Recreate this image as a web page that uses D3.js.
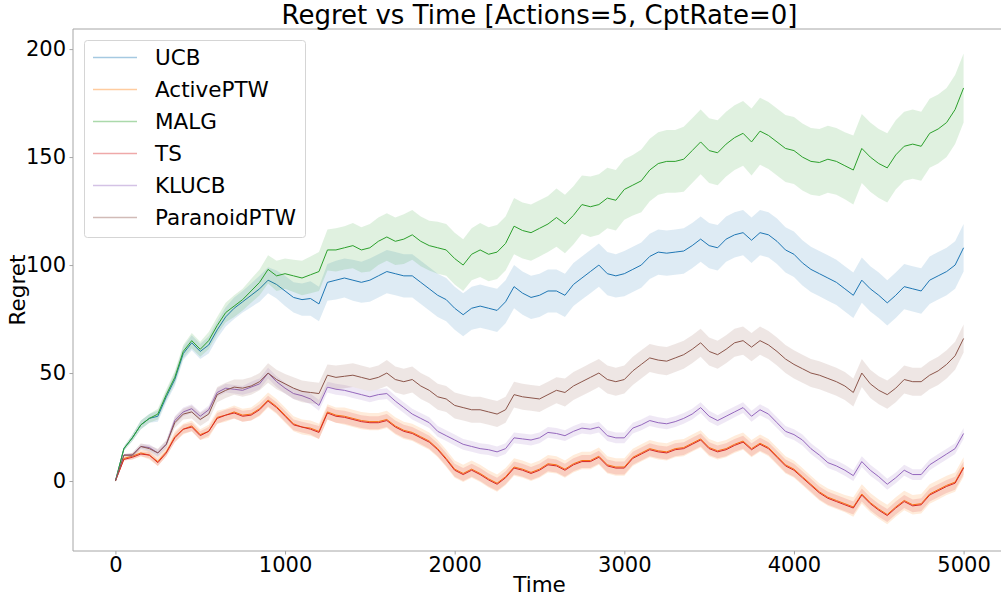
<!DOCTYPE html>
<html>
<head>
<meta charset="utf-8">
<script src="https://d3js.org/d3.v7.min.js"></script>
<style>
  body { margin: 0; background: #fff; }
  svg { display: block; font-family: "DejaVu Sans", sans-serif; }
</style>
</head>
<body>
<div id="chart"></div>
<script>
'use strict';

// time steps (one sample every 50 steps)
var time = d3.range(0, 5001, 50);

// mean regret
var ucb = [
  0, 15, 20, 26, 29, 30, 39, 47, 59, 64,
  60, 63, 70, 76, 80, 83, 86, 89, 93, 91,
  88, 85, 84, 84.5, 82, 92, 93, 94, 93, 92,
  93, 95, 97, 96, 95, 95, 92, 89, 86, 84,
  80, 77, 80, 81, 80, 79, 83, 90, 87, 85,
  86, 88, 88, 86, 91, 94, 97, 100, 96, 95,
  96, 98, 100, 104, 106, 105.5, 106, 106.5, 109, 112,
  109, 108, 112, 114, 115, 111.5, 115, 114, 111, 107,
  105, 101, 98, 96, 94, 92, 89, 86, 93, 89,
  86, 82.5, 86, 90, 89, 88, 93, 95, 97, 100,
  108];
var activePTW = [
  0, 10.5, 11.5, 13, 12, 9, 13.5, 20.5, 24, 25.5,
  21.5, 23, 29.5, 30.5, 32, 30.5, 31, 33.5, 37.5, 34.5,
  30.5, 26.5, 25, 24.5, 23, 32, 30.5, 30, 29, 28,
  27.5, 27.5, 28.5, 25.5, 23.5, 22.5, 20.5, 18.5, 15, 10.5,
  5.5, 3.5, 5.5, 3.5, 1, -1, 2, 6.5, 5.5, 4,
  5.5, 8, 7.5, 5.5, 8, 9.5, 9.5, 11.5, 7.5, 6.5,
  6.5, 11, 13, 15, 14, 13.5, 15, 15.5, 17.5, 19.5,
  15.5, 14, 15, 17, 18.5, 15, 17.5, 15.5, 11.5, 7.5,
  5.5, 2, -1.5, -5, -7.5, -9, -10.5, -12, -6, -10,
  -13, -15.5, -12, -9, -11, -10.5, -6, -4, -2, -0.5,
  6.5];
var malg = [
  0, 15, 20, 26, 29, 31, 40, 48, 60, 65,
  61, 65, 72, 78, 81, 84, 88, 92, 98, 95,
  96, 95, 94, 95.5, 97, 107, 107, 108, 109, 107,
  108, 111, 113, 111, 112, 114, 111, 109, 108, 107,
  103, 100, 105, 107, 105, 106, 110, 118, 116, 115,
  117, 119, 122, 119, 123, 128, 127, 128, 131, 130,
  135, 137, 139, 144, 147, 148, 148, 149, 153, 157,
  153, 152, 156, 159, 161, 157, 162, 160, 157, 154,
  153, 150, 148, 147.5, 149, 148, 146, 144, 154, 150,
  147, 145, 151, 155, 156, 155, 161, 163, 166, 172,
  182];
var ts = [
  0, 10, 11, 12.5, 12, 8.5, 13, 20, 24, 25,
  21, 23, 29, 30.5, 31.5, 30, 30.5, 33, 37, 34,
  30, 26, 25, 24, 22.5, 31.5, 30, 29.5, 28.5, 27.5,
  27, 27, 28, 25, 23, 22, 20, 18, 14.5, 10,
  5, 3, 5, 3, 0.5, -1.5, 1.5, 6, 5, 3.5,
  5, 7.5, 7, 5, 7.5, 9, 9, 11, 7, 6,
  6, 10.5, 12.5, 14.5, 13.5, 13, 14.5, 15, 17, 19,
  15, 13.5, 14.5, 16.5, 18, 14.5, 17, 15, 11, 7,
  5, 1.5, -2, -5.5, -8, -9.5, -11, -12.5, -6.5, -10.5,
  -13.5, -16, -12.5, -9.5, -11.5, -11, -6.5, -4.5, -2.5, -1,
  6];
var klucb = [
  0, 12, 12, 16, 15.5, 13, 17, 28, 32, 33.5,
  30, 33, 41, 43, 42.5, 42, 43.5, 45, 50, 46,
  43, 40.5, 39.5, 38, 35, 43.5, 42.5, 42, 41, 40,
  39, 40, 40.5, 37, 34, 31, 29, 27, 23, 21,
  19, 17, 16, 15, 14.5, 13.5, 15, 20, 19.5, 19,
  20, 22.5, 22, 21, 23, 24.5, 24, 25, 21, 20,
  20, 24.5, 26, 28, 27, 26.5, 27.5, 29, 31, 34,
  30, 28, 30, 32, 34, 30, 33, 31, 27, 23,
  21.5, 19, 15, 12, 8.5, 7, 5, 2.5, 9, 5,
  2, -1.5, 1.5, 5, 3, 3, 7.5, 10, 12.5, 15,
  22];
var paranoidPTW = [
  0, 12, 12, 16, 15, 13, 17, 27, 31, 32,
  28.5, 31, 40, 42, 43.5, 43, 44, 46, 50, 47,
  45, 43, 41.5, 41, 40.5, 49, 48, 48.5, 49, 48,
  47, 48, 50, 47, 46, 47, 44, 42, 39, 38,
  35, 34, 33, 33, 32, 31, 33, 40, 39, 38.5,
  38, 40, 42, 41, 44, 46, 48, 50, 47, 46,
  47, 51, 54, 57, 56, 55.5, 57, 58.5, 61, 64,
  60, 58.5, 61, 64, 65, 62, 65, 63, 60, 56.5,
  54, 52, 50, 49, 47.5, 46, 44, 41, 50, 45,
  42, 40, 43, 47, 46, 46, 49, 51, 54, 58,
  66];

// half width of the shaded band around each mean
var ucbSpread = [
  0, 1, 1.5, 2, 2, 2.5, 2.5, 3, 3, 3.5,
  3.5, 4, 4, 4.5, 5, 5, 5.5, 6, 6, 6.5,
  7, 7, 7.5, 8, 8, 8.5, 9, 9, 9.5, 9.5,
  10, 10, 10, 10, 10, 10, 10, 10, 10, 10,
  10, 10, 10, 10, 10, 10, 10, 10, 10, 10,
  10, 10, 10, 10, 10, 10, 10, 10, 10, 10,
  10.5, 10.5, 10.5, 10.5, 10.5, 10.5, 10.5, 10.5, 10.5, 10.5,
  10.5, 10.5, 10.5, 10.5, 10.5, 10.5, 10.5, 10.5, 10.5, 10.5,
  10.5, 10.5, 10.5, 10.5, 10.5, 10.5, 10.5, 10.5, 10.5, 10.5,
  10.5, 10.5, 10.5, 10.5, 10.5, 10.5, 11, 11, 11, 11,
  11];
var activeSpread = [
  0, 1, 1.5, 1.5, 2, 2, 2, 2.5, 2.5, 2.5,
  2.5, 3, 3, 3, 3, 3, 3, 3.5, 3.5, 3.5,
  3.5, 3.5, 3.5, 3.5, 3.5, 3.5, 3.5, 4, 4, 4,
  4, 4, 4, 4, 4, 4, 4, 4, 4, 4,
  4, 4, 4, 4, 4, 4, 4, 4, 4, 4,
  4, 4, 4, 4, 4, 4, 4, 4, 4, 4,
  4, 4, 4, 4, 4, 4, 4, 4, 4, 4,
  4, 4, 4, 4, 4, 4, 4, 4, 4, 4,
  4, 4, 4, 4, 4, 4, 4, 4.5, 4.5, 4.5,
  4.5, 4.5, 4.5, 4.5, 4.5, 4.5, 4.5, 4.5, 4.5, 4.5,
  4.5];
var malgSpread = [
  0, 1, 1.5, 2, 2, 2.5, 2.5, 3, 3, 3.5,
  3.5, 4, 4, 4.5, 5, 5, 5.5, 6, 6.5, 7,
  7, 7.5, 8, 8.5, 9, 9.5, 10, 10, 10.5, 10.5,
  11, 11, 11, 11, 11.5, 11.5, 11.5, 11.5, 12, 12,
  12, 12, 12, 12.5, 12.5, 12.5, 12.5, 13, 13, 13,
  13, 13, 13.5, 13.5, 13.5, 13.5, 14, 14, 14, 14,
  14, 14, 14.5, 14.5, 14.5, 14.5, 14.5, 15, 15, 15,
  15, 15, 15, 15, 15, 15.5, 15.5, 15.5, 15.5, 15.5,
  15.5, 15.5, 15.5, 15.5, 15.5, 15.5, 15.5, 16, 16, 16,
  16, 16, 16, 16, 16, 16, 16, 16, 16, 16,
  16];
var tsSpread = [
  0, 0.5, 1, 1, 1.5, 1.5, 1.5, 2, 2, 2,
  2, 2, 2.5, 2.5, 2.5, 2.5, 2.5, 2.5, 2.5, 2.5,
  2.5, 2.5, 2.5, 2.5, 3, 3, 3, 3, 3, 3,
  3, 3, 3, 3, 3, 3, 3, 3, 3, 3,
  3, 3, 3, 3, 3, 3, 3, 3, 3, 3,
  3, 3, 3, 3, 3, 3, 3, 3, 3, 3,
  3, 3, 3, 3, 3, 3, 3, 3, 3, 3,
  3, 3, 3, 3, 3, 3, 3, 3, 3, 3,
  3, 3, 3, 3, 3, 3, 3, 3, 3, 3,
  3, 3, 3, 3, 3, 3, 3, 3, 3, 3,
  3];
var klucbSpread = [
  0, 0.5, 1, 1, 1.5, 1.5, 1.5, 2, 2, 2,
  2, 2, 2, 2, 2, 2, 2.5, 2.5, 2.5, 2.5,
  2.5, 2.5, 2.5, 2.5, 2.5, 2.5, 2.5, 2.5, 2.5, 2.5,
  2.5, 2.5, 2.5, 2.5, 2.5, 2.5, 2.5, 2.5, 2.5, 2.5,
  2.5, 2.5, 2.5, 2.5, 2.5, 2.5, 2.5, 2.5, 2.5, 2.5,
  2.5, 2.5, 2.5, 2.5, 2.5, 2.5, 2.5, 2.5, 2.5, 2.5,
  2.5, 2.5, 2.5, 2.5, 2.5, 2.5, 2.5, 2.5, 2.5, 2.5,
  2.5, 2.5, 2.5, 2.5, 2.5, 2.5, 2.5, 2.5, 2.5, 2.5,
  2.5, 2.5, 2.5, 2.5, 2.5, 2.5, 2.5, 2.5, 2.5, 2.5,
  2.5, 2.5, 2.5, 2.5, 2.5, 2.5, 2.5, 2.5, 2.5, 2.5,
  2.5];
var paranoidSpread = [
  0, 0.5, 1, 1.5, 1.5, 2, 2, 2.5, 2.5, 3,
  3, 3, 3.5, 3.5, 3.5, 4, 4, 4, 4.5, 4.5,
  4.5, 5, 5, 5, 5, 5, 5.5, 5.5, 5.5, 5.5,
  5.5, 5.5, 6, 6, 6, 6, 6, 6, 6, 6,
  6, 6, 6, 6, 6, 6, 6, 6, 6, 6,
  6, 6, 6, 6.5, 6.5, 6.5, 6.5, 6.5, 6.5, 6.5,
  6.5, 6.5, 6.5, 6.5, 6.5, 6.5, 6.5, 6.5, 6.5, 6.5,
  6.5, 6.5, 6.5, 6.5, 6.5, 6.5, 6.5, 6.5, 6.5, 6.5,
  6.5, 6.5, 6.5, 6.5, 6.5, 6.5, 6.5, 6.5, 6.5, 6.5,
  6.5, 6.5, 6.5, 6.5, 6.5, 6.5, 6.5, 6.5, 6.5, 6.5,
  6.5];

var names = ["UCB", "ActivePTW", "MALG", "TS", "KLUCB", "ParanoidPTW"];
var colors = ["#1f77b4", "#ff7f0e", "#2ca02c", "#d62728", "#9467bd", "#8c564b"];
var means = [ucb, activePTW, malg, ts, klucb, paranoidPTW];
var spreads = [ucbSpread, activeSpread, malgSpread, tsSpread, klucbSpread, paranoidSpread];

var xTicks = [0, 1000, 2000, 3000, 4000, 5000];
var yTicks = [0, 50, 100, 150, 200];

// plot area (right edge falls just outside the window, as in the reference)
var W = 1001, H = 597;
var margin = {top: 29, left: 73, bottom: 46},
  plotRight = 1006,
  plotBottom = H - margin.bottom;

var x = d3.scaleLinear().domain([-250, 5250]).range([margin.left, plotRight]);
var y = d3.scaleLinear().domain([-32.4, 209.3]).range([plotBottom, margin.top]);

var svg = d3.select("#chart").append("svg")
  .attr("width", W)
  .attr("height", H);

svg.append("defs").append("clipPath").attr("id", "clip")
  .append("rect")
  .attr("x", margin.left).attr("y", margin.top)
  .attr("width", plotRight - margin.left).attr("height", plotBottom - margin.top);

var plot = svg.append("g").attr("clip-path", "url(#clip)");

names.forEach(function(name, k) {
  var rows = time.map(function(t, i) {
    return {t: t, m: means[k][i], s: spreads[k][i]};
  });

  var band = d3.area()
    .x(function(d) { return x(d.t); })
    .y0(function(d) { return y(d.m - d.s); })
    .y1(function(d) { return y(d.m + d.s); });

  var line = d3.line()
    .x(function(d) { return x(d.t); })
    .y(function(d) { return y(d.m); });

  plot.append("path")
    .datum(rows)
    .attr("d", band)
    .attr("fill", colors[k])
    .attr("fill-opacity", 0.15)
    .attr("stroke", "none");

  plot.append("path")
    .datum(rows)
    .attr("d", line)
    .attr("fill", "none")
    .attr("stroke", colors[k])
    .attr("stroke-width", 1);
});

// spines
var spine = "#a6a6a6";
svg.append("path")
  .attr("d", "M" + margin.left + "," + margin.top + "H" + plotRight +
    "M" + margin.left + "," + margin.top + "V" + plotBottom + "H" + plotRight)
  .attr("fill", "none")
  .attr("stroke", spine)
  .attr("stroke-width", 1);

// axes
var xAxis = svg.append("g")
  .attr("transform", "translate(0," + plotBottom + ")")
  .call(d3.axisBottom(x).tickValues(xTicks).tickFormat(d3.format("d"))
    .tickSize(3.5).tickPadding(2.5));
var yAxis = svg.append("g")
  .attr("transform", "translate(" + margin.left + ",0)")
  .call(d3.axisLeft(y).tickValues(yTicks).tickFormat(d3.format("d"))
    .tickSize(3.5).tickPadding(3.5));

[xAxis, yAxis].forEach(function(a) {
  a.select(".domain").remove();
  a.selectAll(".tick line").attr("stroke", spine);
  a.selectAll(".tick text")
    .attr("fill", "#000")
    .style("font-family", "'DejaVu Sans', sans-serif")
    .style("font-size", "21px");
});

// title and axis labels
svg.append("text")
  .attr("x", (margin.left + plotRight) / 2)
  .attr("y", 24)
  .attr("text-anchor", "middle")
  .style("font-size", "26px")
  .text("Regret vs Time [Actions=5, CptRate=0]");

svg.append("text")
  .attr("x", (margin.left + plotRight) / 2)
  .attr("y", 592)
  .attr("text-anchor", "middle")
  .style("font-size", "21.5px")
  .text("Time");

svg.append("text")
  .attr("transform", "translate(25," + (margin.top + plotBottom) / 2 + ") rotate(-90)")
  .attr("text-anchor", "middle")
  .style("font-size", "21.5px")
  .text("Regret");

// legend
var legend = svg.append("g").attr("transform", "translate(84.5,40.5)");
legend.append("rect")
  .attr("width", 221)
  .attr("height", 197)
  .attr("rx", 3)
  .attr("fill", "#fff")
  .attr("fill-opacity", 0.8)
  .attr("stroke", "#d5d5d5");

names.forEach(function(name, k) {
  var row = legend.append("g").attr("transform", "translate(0," + (17 + k * 32) + ")");
  row.append("line")
    .attr("x1", 8.5).attr("x2", 52.5)
    .attr("stroke", colors[k])
    .attr("stroke-opacity", 0.4)
    .attr("stroke-width", 1.5);
  row.append("text")
    .attr("x", 70.5)
    .attr("y", 7.5)
    .style("font-size", "21.5px")
    .text(name);
});
</script>
</body>
</html>
